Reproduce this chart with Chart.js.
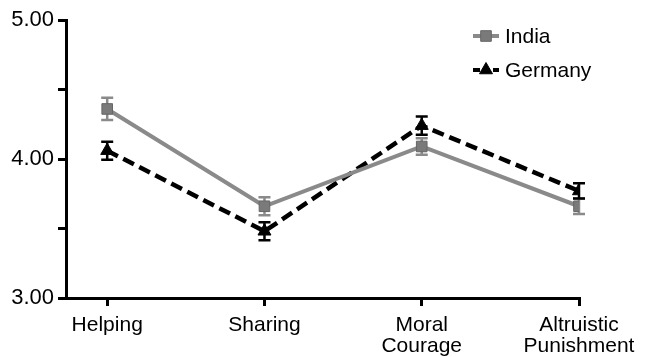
<!DOCTYPE html>
<html>
<head>
<meta charset="utf-8">
<script src="https://cdn.jsdelivr.net/npm/chart.js@4"></script>
<style>
  html, body { margin: 0; padding: 0; background: #fff; }
  #wrap { width: 645px; height: 357px; }
</style>
</head>
<body>
<div id="wrap"><canvas id="chart"></canvas></div>
<script>
  // categories and values
  const categories = [['Helping'], ['Sharing'], ['Moral', 'Courage'], ['Altruistic', 'Punishment']];
  const catPos = [0, 1, 2, 3];
  const india = [4.36, 3.66, 4.09, 3.66];
  const indiaErr = [0.08, 0.065, 0.06, 0.055];
  const germany = [4.06, 3.48, 4.24, 3.77];
  const germanyErr = [0.065, 0.065, 0.065, 0.055];
  const yTicks = [3, 3.5, 4, 4.5, 5];

  const grey = '#8a8a8a';
  const FONT = 'Liberation Sans, Arial, sans-serif';

  // error bars drawn under the lines
  const errorBars = {
    id: 'errorBars',
    beforeDatasetsDraw(chart) {
      const ctx = chart.ctx;
      const xs = chart.scales.x, ys = chart.scales.y;
      chart.data.datasets.forEach(ds => {
        ctx.save();
        ctx.strokeStyle = ds.errColor;
        ctx.lineWidth = 2.5;
        ds.data.forEach((p, i) => {
          const x = xs.getPixelForValue(p.x);
          const top = ys.getPixelForValue(p.y + ds.err[i]);
          const bot = ys.getPixelForValue(p.y - ds.err[i]);
          ctx.beginPath();
          ctx.moveTo(x, top); ctx.lineTo(x, bot);
          ctx.moveTo(x - 6, top); ctx.lineTo(x + 6, top);
          ctx.moveTo(x - 6, bot); ctx.lineTo(x + 6, bot);
          ctx.stroke();
        });
        ctx.restore();
      });
    }
  };

  // legend in the top right corner
  const legendBox = {
    id: 'legendBox',
    afterDraw(chart) {
      const ctx = chart.ctx;
      ctx.save();
      chart.data.datasets.forEach((ds, i) => {
        const y = 36 + i * 34;
        ctx.strokeStyle = ds.borderColor;
        ctx.lineWidth = 4;
        ctx.setLineDash(i === 1 ? [7, 3] : []);
        ctx.beginPath();
        ctx.moveTo(473, y); ctx.lineTo(499, y);
        ctx.stroke();
        ctx.setLineDash([]);
        ctx.fillStyle = ds.pointBackgroundColor;
        ctx.strokeStyle = ds.pointBorderColor;
        ctx.lineWidth = 1;
        Chart.helpers.drawPoint(ctx, {
          pointStyle: ds.pointStyle, radius: ds.pointRadius, borderWidth: 1
        }, 486, y);
        ctx.fillStyle = '#000';
        ctx.font = '21px ' + FONT;
        ctx.textBaseline = 'middle';
        ctx.fillText(ds.label, 505, y + 1);
      });
      ctx.restore();
    }
  };

  new Chart(document.getElementById('chart'), {
    type: 'line',
    data: {
      datasets: [
        {
          label: 'India',
          data: catPos.map((x, i) => ({ x: x, y: india[i] })),
          err: indiaErr,
          errColor: grey,
          borderColor: grey,
          borderWidth: 4,
          pointStyle: 'rect',
          pointRadius: 7.5,
          pointBackgroundColor: '#7a7a7a',
          pointBorderColor: '#666',
          pointBorderWidth: 1
        },
        {
          label: 'Germany',
          data: catPos.map((x, i) => ({ x: x, y: germany[i] })),
          err: germanyErr,
          errColor: '#000',
          borderColor: '#000',
          borderWidth: 4.5,
          borderDash: [12, 6],
          pointStyle: 'triangle',
          pointRadius: 7.5,
          pointBackgroundColor: '#000',
          pointBorderColor: '#000',
          pointBorderWidth: 1
        }
      ]
    },
    options: {
      responsive: true,
      maintainAspectRatio: false,
      animation: false,
      layout: { padding: { top: 20, right: 66, left: 0, bottom: 0 } },
      plugins: { legend: { display: false }, tooltip: { enabled: false } },
      scales: {
        x: {
          type: 'linear',
          min: -0.262,
          max: 3,
          afterBuildTicks: s => { s.ticks = catPos.map(v => ({ value: v })); },
          afterFit: s => { s.height = 59; },
          border: { display: true, color: '#000', width: 3 },
          grid: { drawOnChartArea: false, drawTicks: true, tickLength: 8, color: '#000', lineWidth: 3 },
          ticks: {
            color: '#000',
            padding: 9,
            maxRotation: 0,
            autoSkip: false,
            font: { family: FONT, size: 21, lineHeight: 1.0 },
            callback: v => categories[catPos.indexOf(v)]
          }
        },
        y: {
          min: 3,
          max: 5,
          afterBuildTicks: s => { s.ticks = yTicks.map(v => ({ value: v })); },
          afterFit: s => { s.width = 66; },
          border: { display: true, color: '#000', width: 3 },
          grid: { drawOnChartArea: false, drawTicks: true, tickLength: 8, color: '#000', lineWidth: 3 },
          ticks: {
            color: '#000',
            padding: 4,
            font: { family: FONT, size: 22 },
            callback: v => (v % 1 === 0 ? v.toFixed(2) : '')
          }
        }
      }
    },
    plugins: [errorBars, legendBox]
  });
</script>
</body>
</html>
